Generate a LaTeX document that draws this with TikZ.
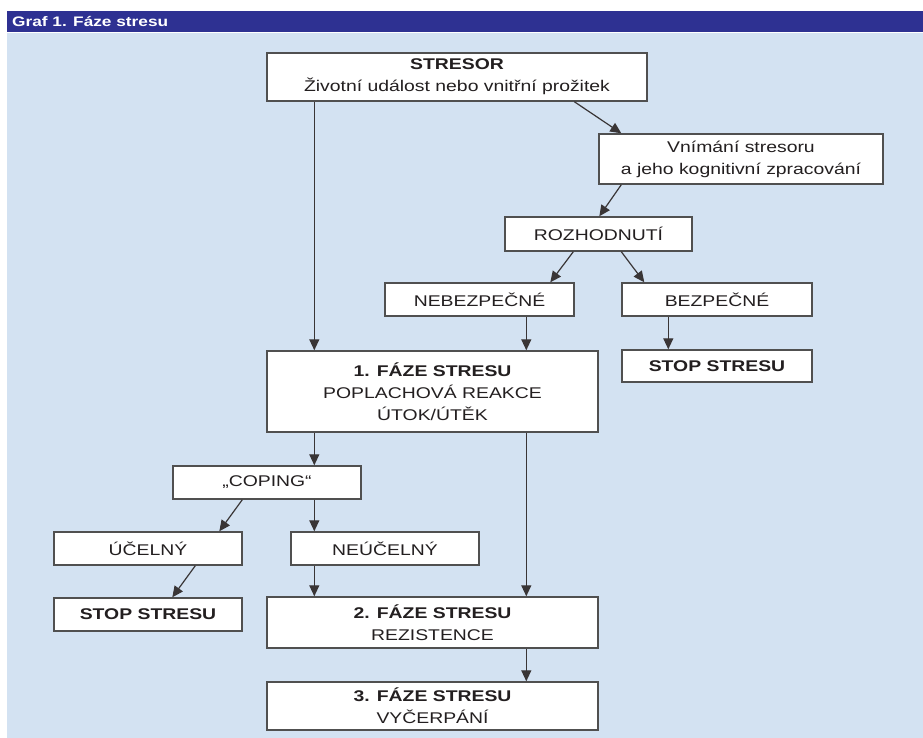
\documentclass[tikz,border=0pt]{standalone}
\usepackage{fontspec}
\setmainfont[FakeStretch=1.25]{Liberation Sans}
\usetikzlibrary{arrows.meta}
\definecolor{bgblue}{RGB}{211,226,242}
\definecolor{barblue}{RGB}{46,49,146}
\definecolor{ink}{RGB}{35,31,32}
\definecolor{edge}{RGB}{80,80,80}
\begin{document}
\begin{tikzpicture}[x=1pt,y=-1pt,
  box/.style={draw=edge,line width=1.4pt,fill=white,rectangle,inner sep=0pt,
    align=center,text=ink,font=\fontsize{15.5}{22}\selectfont},
  arr/.style={draw=ink!90,line width=1.2pt,-{Triangle[length=11pt,width=10pt]}}]
\useasboundingbox (0,0) rectangle (923,738);
\fill[white] (0,0) rectangle (923,738);
\fill[bgblue] (7,33) rectangle (923,738);
\fill[barblue] (7,11) rectangle (923,32);
\node[anchor=west,text=white,inner sep=0pt,font=\fontsize{13.8}{16}\selectfont\bfseries] (title) at (12,22) {Graf 1. Fáze stresu};

\node[box,minimum width=380,minimum height=48] (stresor) at (457,77) {\textbf{STRESOR}\\Životní událost nebo vnitřní prožitek};
\node[box,minimum width=284,minimum height=50] (vnim) at (741,159) {Vnímání stresoru\\a jeho kognitivní zpracování};
\node[box,minimum width=187,minimum height=34] (rozh) at (598.5,234) {ROZHODNUTÍ};
\node[box,minimum width=189,minimum height=33] (nebez) at (479.5,299.5) {NEBEZPEČNÉ};
\node[box,minimum width=190,minimum height=33] (bezp) at (717,299.5) {BEZPEČNÉ};
\node[box,minimum width=190,minimum height=32] (stopR) at (717,366) {\textbf{STOP STRESU}};
\node[box,minimum width=331,minimum height=81] (faze1) at (432.5,391.5) {\textbf{1. FÁZE STRESU}\\POPLACHOVÁ REAKCE\\ÚTOK/ÚTĚK};
\node[box,minimum width=188,minimum height=33] (coping) at (267,482.5) {„COPING“};
\node[box,minimum width=188,minimum height=33] (ucel) at (148,548.5) {ÚČELNÝ};
\node[box,minimum width=188,minimum height=33] (neucel) at (385,548.5) {NEÚČELNÝ};
\node[box,minimum width=188,minimum height=33] (stopL) at (148,614.5) {\textbf{STOP STRESU}};
\node[box,minimum width=331,minimum height=51] (faze2) at (432.5,622.5) {\textbf{2. FÁZE STRESU}\\REZISTENCE};
\node[box,minimum width=331,minimum height=48] (faze3) at (432.5,706) {\textbf{3. FÁZE STRESU}\\VYČERPÁNÍ};

\draw[arr] ([xshift=48pt]stresor.south west) -- ([xshift=48pt]faze1.north west);
\draw[arr] ([xshift=308pt]stresor.south west) -- ([xshift=23pt]vnim.north west);
\draw[arr] ([xshift=23pt]vnim.south west) -- ([xshift=95pt]rozh.north west);
\draw[arr] ([xshift=69pt]rozh.south west) -- ([xshift=166pt]nebez.north west);
\draw[arr] ([xshift=117pt]rozh.south west) -- ([xshift=23pt]bezp.north west);
\draw[arr] ([xshift=142pt]nebez.south west) -- ([xshift=260pt]faze1.north west);
\draw[arr] ([xshift=47pt]bezp.south west) -- ([xshift=47pt]stopR.north west);
\draw[arr] ([xshift=48pt]faze1.south west) -- ([xshift=142pt]coping.north west);
\draw[arr] ([xshift=260pt]faze1.south west) -- ([xshift=260pt]faze2.north west);
\draw[arr] ([xshift=70pt]coping.south west) -- ([xshift=166pt]ucel.north west);
\draw[arr] ([xshift=142pt]coping.south west) -- ([xshift=24pt]neucel.north west);
\draw[arr] ([xshift=142pt]ucel.south west) -- ([xshift=119pt]stopL.north west);
\draw[arr] ([xshift=24pt]neucel.south west) -- ([xshift=48pt]faze2.north west);
\draw[arr] ([xshift=260pt]faze2.south west) -- ([xshift=260pt]faze3.north west);
\end{tikzpicture}
\end{document}
